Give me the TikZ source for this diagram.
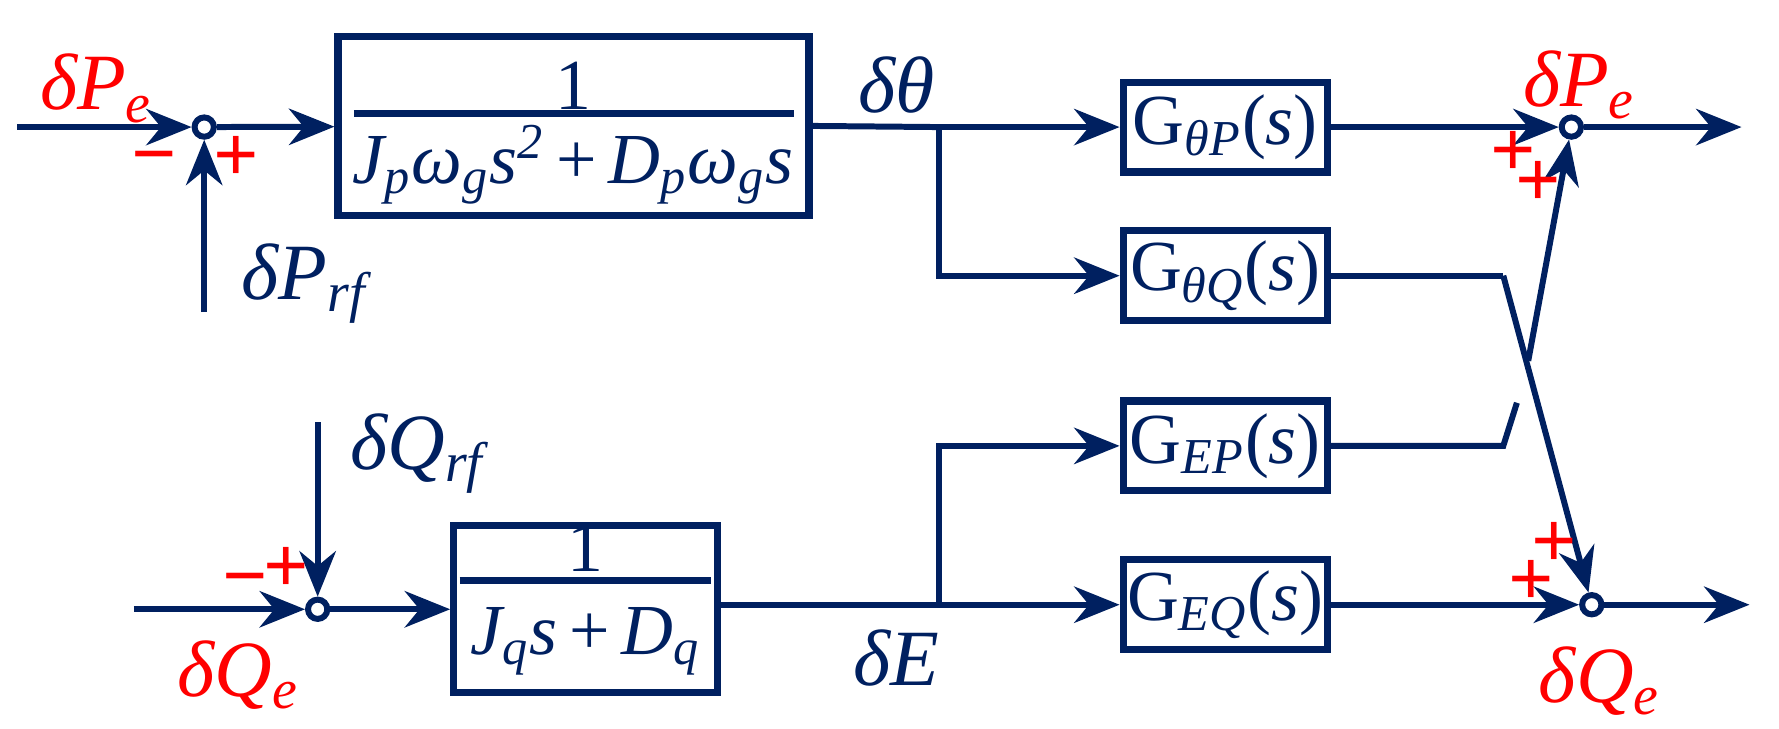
\documentclass[tikz,border=0pt]{standalone}
\usepackage{fontspec}
\setmainfont{Liberation Serif}
\usetikzlibrary{arrows.meta}
\definecolor{navy}{RGB}{0,32,96}
\newcommand{\lbl}[2]{{\itshape #1}\textsubscript{\itshape #2}}
\begin{document}
\begin{tikzpicture}[x=0.01cm,y=-0.01cm,
  every node/.style={text=navy},
  ln/.style={navy,line width=1.5pt},
  ar/.style={ln,-{Stealth[length=4mm,width=3.2mm]}},
  blk/.style={draw=navy,line width=1.8pt,inner sep=0pt},
  sum/.style={circle,draw=navy,line width=1.5pt,fill=white,minimum size=0.17cm,inner sep=0pt},
  lab/.style={font=\fontsize{20}{22}\selectfont},
  red/.style={text=red,font=\fontsize{20}{22}\selectfont},
  pm/.style={text=red,font=\bfseries\fontsize{20}{20}\selectfont,inner sep=0pt},
  gf/.style={font=\fontsize{18}{20}\selectfont},
  rule/.style={navy,line width=1.8pt}]
\useasboundingbox (0,0) rectangle (1568,642);
% top loop
\coordinate (in1) at (15,112);
\node[sum] (s1) at (180,112) {};
\coordinate (rf1) at (180,275);
\node[blk,minimum width=4.15cm,minimum height=1.58cm] (b1) at (505.5,111) {};
\node[gf] (n1) at (505,76) {1};
\draw[rule] (312,100) -- (700,100);
\node[gf] (d1) at (505,145) {\itshape J\textsubscript{p}ω\textsubscript{g}s\textsuperscript{2}\upshape\,+\,\itshape D\textsubscript{p}ω\textsubscript{g}s};
\draw[ar] (in1) -- (s1);
\draw[ar] (rf1) -- (s1);
\draw[ar] (s1) -- (b1);
\node[red] at (85,78) {\lbl{δP}{e}};
\node[pm] at (136,146) {−};
\node[pm] at (208,140) {+};
\node[lab] at (268,250) {\lbl{δP}{rf}};
\node[lab] at (790,75) {\itshape δθ};
% G blocks
\node[blk,minimum width=1.8cm,minimum height=0.79cm,gf] (g1) at (1080,112) {G\textsubscript{\itshape θP}(\textit{s})};
\node[blk,minimum width=1.8cm,minimum height=0.79cm,gf] (g2) at (1080,243) {G\textsubscript{\itshape θQ}(\textit{s})};
\node[blk,minimum width=1.8cm,minimum height=0.79cm,gf] (g3) at (1080,393) {G\textsubscript{\itshape EP}(\textit{s})};
\node[blk,minimum width=1.8cm,minimum height=0.79cm,gf] (g4) at (1080,533) {G\textsubscript{\itshape EQ}(\textit{s})};
\coordinate (j1) at (828,112);
\draw[ln] (b1.east) -- (j1);
\draw[ar] (j1) -- (g1);
\draw[ar] (j1) |- (g2);
% bottom loop
\coordinate (in2) at (118,537);
\node[sum] (s2) at (280,537) {};
\coordinate (rf2) at (280,372);
\node[blk,minimum width=2.32cm,minimum height=1.47cm] (b2) at (516,536.5) {};
\node[gf] (n2) at (516,483) {1};
\draw[rule] (405,512) -- (627,512);
\node[gf] (d2) at (516,565) {\itshape J\textsubscript{q}s\upshape\,+\,\itshape D\textsubscript{q}};
\draw[ar] (in2) -- (s2);
\draw[ar] (rf2) -- (s2);
\draw[ar] (s2) -- (b2.west |- s2);
\node[red] at (210,595) {\lbl{δQ}{e}};
\node[pm] at (216,518) {−};
\node[pm] at (252,502) {+};
\node[lab] at (368,400) {\lbl{δQ}{rf}};
\node[lab] at (790,580) {\itshape δE};
\coordinate (j2) at (828,533);
\draw[ln] (b2.east |- j2) -- (j2);
\draw[ar] (j2) -- (g4);
\draw[ar] (j2) |- (g3);
% right sums
\node[sum] (s3) at (1385,112) {};
\node[sum] (s4) at (1403,533) {};
\coordinate (o1) at (1535,112);
\coordinate (o2) at (1542,533);
\draw[ar] (g1) -- (s3);
\draw[ar] (g4) -- (s4);
\draw[ar] (s3) -- (o1);
\draw[ar] (s4) -- (o2);
\coordinate (k2) at (1325,243);
\coordinate (k3) at (1325,393);
\coordinate (c3a) at (1337,355);
\coordinate (c3b) at (1347,318);
\draw[ln] (g2.east) -- (k2);
\draw[ar] (k2) -- (s4);
\draw[ln] (g3.east) -- (k3) -- (c3a);
\draw[ar] (c3b) -- (s3);
\node[red] at (1392,75) {\lbl{δP}{e}};
\node[pm] at (1334,136) {+};
\node[pm] at (1356,162) {+};
\node[red] at (1410,600) {\lbl{δQ}{e}};
\node[pm] at (1370,480) {+};
\node[pm] at (1350,514) {+};
\end{tikzpicture}
\end{document}
